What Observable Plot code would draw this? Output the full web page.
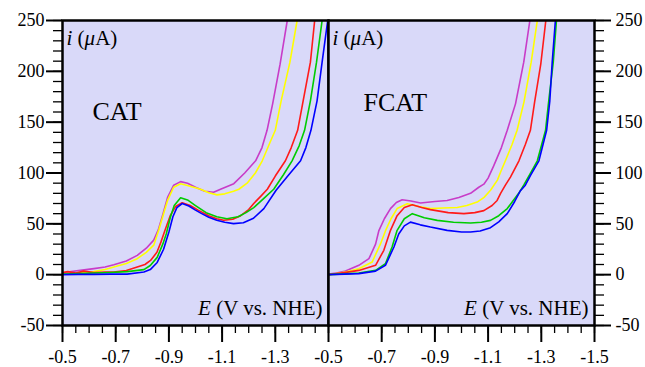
<!DOCTYPE html>
<html><head><meta charset="utf-8">
<script src="https://cdn.jsdelivr.net/npm/d3@7"></script>
<script src="https://cdn.jsdelivr.net/npm/@observablehq/plot@0.6"></script>
<style>
body{margin:0;background:#fff;}
#chart{display:flex;width:645px;height:367px;}
#chart svg{overflow:visible;display:block;flex:none;}
</style></head><body><div id="chart"></div>
<script>
// ---- Data: E (V vs. NHE), i (µA) ----
const seriesColors = ["#c83cc8", "#ffff00", "#ff1a1a", "#00cc00", "#0000ff"]; // magenta, yellow, red, green, blue

const catMagenta = [[-0.5,1],[-0.518,2.6],[-0.56,4],[-0.618,5.9],[-0.66,7.5],[-0.693,9.8],[-0.74,13.5],[-0.781,19],[-0.815,26],[-0.843,34],[-0.86,44],[-0.878,60],[-0.895,76],[-0.918,88],[-0.944,91.5],[-0.97,90],[-1.0,86],[-1.035,82],[-1.068,81],[-1.094,84],[-1.144,89.5],[-1.185,100],[-1.226,112],[-1.25,125],[-1.269,142],[-1.29,168],[-1.318,207],[-1.345,250]];
const catYellow = [[-0.5,0.5],[-0.56,2],[-0.618,3],[-0.66,5],[-0.693,7.5],[-0.74,11],[-0.781,15.7],[-0.815,22],[-0.843,29],[-0.862,44],[-0.88,60],[-0.895,73],[-0.918,86],[-0.944,89.5],[-0.98,87],[-1.019,84],[-1.05,80.5],[-1.081,78.5],[-1.11,79.5],[-1.143,82],[-1.163,84],[-1.194,90],[-1.225,100],[-1.251,112],[-1.28,130],[-1.3,142],[-1.322,171],[-1.355,209],[-1.382,250]];
const catRed = [[-0.5,2],[-0.52,3],[-0.55,1.5],[-0.58,3.5],[-0.618,2],[-0.66,2.5],[-0.693,2.5],[-0.74,4],[-0.781,7.5],[-0.81,10],[-0.831,14],[-0.855,22],[-0.87,32],[-0.887,45],[-0.905,58],[-0.925,67],[-0.95,70.8],[-0.98,68],[-1.01,63.5],[-1.05,58],[-1.08,55],[-1.106,53.5],[-1.14,54.5],[-1.17,58],[-1.2,64],[-1.219,70],[-1.245,77],[-1.27,84],[-1.3,97],[-1.338,112],[-1.36,125],[-1.384,142],[-1.404,170],[-1.432,209],[-1.448,250]];
const catGreen = [[-0.5,0.5],[-0.56,1],[-0.618,1.7],[-0.68,2.2],[-0.743,3],[-0.806,5],[-0.83,9],[-0.856,17],[-0.877,30],[-0.89,40],[-0.905,56],[-0.92,68],[-0.944,75.7],[-0.97,73.5],[-1.0,68],[-1.04,61],[-1.08,57],[-1.118,55],[-1.16,57],[-1.19,61],[-1.219,66],[-1.257,75],[-1.294,84],[-1.33,98],[-1.363,112],[-1.39,127],[-1.41,142],[-1.432,171],[-1.455,209],[-1.476,250]];
const catBlue = [[-0.5,0],[-0.56,0.3],[-0.618,0.3],[-0.68,0.5],[-0.743,0.5],[-0.806,2.6],[-0.83,5],[-0.856,12],[-0.88,25],[-0.9,42],[-0.915,57],[-0.93,66],[-0.95,70],[-0.975,67.5],[-1.0,63.5],[-1.02,60.5],[-1.05,56.5],[-1.08,53.5],[-1.11,51.5],[-1.143,50.2],[-1.18,51],[-1.218,55.5],[-1.257,65],[-1.303,83],[-1.35,98],[-1.395,112],[-1.415,125],[-1.434,142],[-1.457,171],[-1.476,209],[-1.497,250]];

const fcatMagenta = [[-0.5,0.5],[-0.53,1.5],[-0.564,3.5],[-0.614,9.2],[-0.652,15.7],[-0.677,30],[-0.689,43],[-0.71,55],[-0.733,65],[-0.755,71],[-0.777,73.7],[-0.81,72.5],[-0.846,70.5],[-0.9,72],[-0.946,73],[-0.99,76],[-1.034,80],[-1.065,86],[-1.084,89],[-1.1,95],[-1.121,107],[-1.15,125],[-1.172,142],[-1.203,168],[-1.234,209],[-1.257,250]];
const fcatYellow = [[-0.5,0],[-0.564,2.6],[-0.614,5.9],[-0.664,12.4],[-0.695,30],[-0.714,43],[-0.735,55],[-0.758,65],[-0.796,69.8],[-0.84,67],[-0.883,65],[-0.93,65.5],[-0.984,66],[-1.02,68],[-1.059,71.4],[-1.085,76],[-1.109,83],[-1.135,93],[-1.147,101],[-1.165,112],[-1.19,128],[-1.209,142],[-1.235,170],[-1.262,209],[-1.285,250]];
const fcatRed = [[-0.5,0],[-0.56,2],[-0.614,4.2],[-0.677,9.2],[-0.708,24],[-0.733,43.6],[-0.758,58],[-0.785,66],[-0.815,68.8],[-0.85,66],[-0.883,64],[-0.95,61],[-1.009,60],[-1.05,61],[-1.084,63],[-1.115,68],[-1.134,73],[-1.147,80],[-1.165,88],[-1.184,96],[-1.216,112],[-1.24,128],[-1.259,142],[-1.275,170],[-1.298,207],[-1.317,250]];
const fcatGreen = [[-0.5,0],[-0.56,0.8],[-0.614,1.7],[-0.677,4.2],[-0.714,10.8],[-0.739,27.2],[-0.758,43.6],[-0.785,55],[-0.815,60],[-0.86,56],[-0.909,53.4],[-0.97,51.5],[-1.034,50.8],[-1.075,51.5],[-1.109,53.4],[-1.14,58],[-1.172,65],[-1.215,80],[-1.234,88],[-1.26,100],[-1.285,112],[-1.316,142],[-1.328,171],[-1.345,209],[-1.357,250]];
const fcatBlue = [[-0.5,0],[-0.56,0.5],[-0.614,1],[-0.677,3.5],[-0.714,9.2],[-0.746,27.2],[-0.764,40],[-0.785,48],[-0.808,51.7],[-0.845,49],[-0.883,46.8],[-0.946,43.6],[-1.0,42],[-1.034,41.9],[-1.07,43],[-1.109,46.2],[-1.14,52],[-1.172,60],[-1.2,72],[-1.22,82],[-1.24,88],[-1.26,98],[-1.291,112],[-1.32,142],[-1.332,171],[-1.341,209],[-1.353,250]];

const catSeries = [catMagenta, catYellow, catRed, catGreen, catBlue];
const fcatSeries = [fcatMagenta, fcatYellow, fcatRed, fcatGreen, fcatBlue];

// ---- Axes / labels ----
const yMajorTicks = [-50, 0, 50, 100, 150, 200, 250];
const yMinorTicks = d3.range(-50, 251, 10);
const xLabelsCAT = [-0.5, -0.7, -0.9, -1.1, -1.3];
const xLabelsFCAT = [-0.5, -0.7, -0.9, -1.1, -1.3, -1.5];
const xMinorTicks = d3.range(0, 21).map(k => +(-0.5 - k * 0.05).toFixed(2));
const panelNames = ["CAT", "FCAT"];
const yLabel = "i (μA)";
const xLabel = "E (V vs. NHE)";

const FONT = "Liberation Serif, DejaVu Serif, Noto Serif, serif";
const BG = "#d9d9f9";

function panel({name, series, xLabels, side, width, marginLeft, marginRight, nameDx, nameDy}) {
  const marks = [
    Plot.frame({fill: BG, stroke: null}),
    ...series.map((s, k) => Plot.line(s, {x: d => d[0], y: d => d[1], stroke: seriesColors[k], strokeWidth: 1.6, clip: true})),
    Plot.frame({stroke: "black", strokeWidth: 2.5}),
    Plot.axisX({ticks: xMinorTicks, tickSize: 8, strokeWidth: 1.3, tickFormat: () => ""}),
    Plot.axisX({ticks: xLabels, tickSize: 17, tickPadding: 8, strokeWidth: 2, tickFormat: d => d.toFixed(1), fontSize: 18}),
    Plot.axisY({ticks: yMinorTicks, anchor: side, tickSize: 9, strokeWidth: 1.3, tickFormat: () => ""}),
    Plot.axisY({ticks: yMajorTicks, anchor: side, tickSize: 16, tickPadding: side === "left" ? 2 : 5, strokeWidth: 2, tickFormat: d => String(d), fontSize: 18}),
    Plot.text([yLabel], {frameAnchor: "top-left", textAnchor: "start", lineAnchor: "middle", dx: 4, dy: 18, fontSize: 21}),
    Plot.text([name], {frameAnchor: "top-left", textAnchor: "start", lineAnchor: "middle", dx: nameDx, dy: nameDy, fontSize: 26}),
    Plot.text([xLabel], {frameAnchor: "bottom-right", textAnchor: "end", lineAnchor: "middle", dx: -6, dy: -17, fontSize: 21})
  ];
  const svg = Plot.plot({
    width, height: 367,
    marginLeft, marginRight, marginTop: 20, marginBottom: 42,
    x: {domain: [-0.5, -1.5]},
    y: {domain: [-50, 250]},
    style: {overflow: "visible", background: "transparent", color: "black"},
    marks
  });
  svg.setAttribute("font-family", FONT);
  svg.style.fontFamily = FONT;
  svg.querySelectorAll("text").forEach(t => {
    t.style.fontFamily = FONT;
    if (t.textContent === yLabel) t.innerHTML = '<tspan font-style="italic">i</tspan> (<tspan font-style="italic">μ</tspan>A)';
    else if (t.textContent === xLabel) t.innerHTML = '<tspan font-style="italic">E</tspan> (V vs. NHE)';
  });
  return svg;
}

const chart = document.getElementById("chart");
chart.append(panel({name: panelNames[0], series: catSeries, xLabels: xLabelsCAT, side: "left", width: 328, marginLeft: 62, marginRight: 0, nameDx: 30, nameDy: 91}));
chart.append(panel({name: panelNames[1], series: fcatSeries, xLabels: xLabelsFCAT, side: "right", width: 317, marginLeft: 0, marginRight: 51, nameDx: 35, nameDy: 82}));
</script>
</body></html>
